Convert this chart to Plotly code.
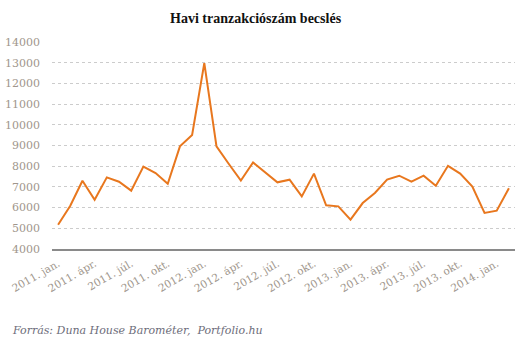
import plotly.graph_objects as go

# Monthly transaction estimates, Jan 2011 – Feb 2014
months = [
    "2011. jan.", "2011. febr.", "2011. márc.", "2011. ápr.", "2011. máj.", "2011. jún.",
    "2011. júl.", "2011. aug.", "2011. szept.", "2011. okt.", "2011. nov.", "2011. dec.",
    "2012. jan.", "2012. febr.", "2012. márc.", "2012. ápr.", "2012. máj.", "2012. jún.",
    "2012. júl.", "2012. aug.", "2012. szept.", "2012. okt.", "2012. nov.", "2012. dec.",
    "2013. jan.", "2013. febr.", "2013. márc.", "2013. ápr.", "2013. máj.", "2013. jún.",
    "2013. júl.", "2013. aug.", "2013. szept.", "2013. okt.", "2013. nov.", "2013. dec.",
    "2014. jan.", "2014. febr.",
]
transactions = [
    5170, 6090, 7300, 6380, 7460, 7250,
    6820, 7980, 7670, 7150, 8960, 9510,
    12980, 8960, 8120, 7310, 8180, 7690,
    7220, 7350, 6540, 7640, 6110, 6060,
    5420, 6220, 6710, 7350, 7540, 7250,
    7540, 7060, 8020, 7640, 7020, 5740,
    5850, 6930,
]
tick_labels = months[::3]
y_ticks = list(range(4000, 14001, 1000))

serif = "DejaVu Serif"
tick_color = "#a0968c"

fig = go.Figure(
    go.Scatter(
        x=months,
        y=transactions,
        mode="lines",
        line=dict(color="#E8771E", width=2),
        hoverinfo="x+y",
    )
)

fig.update_layout(
    width=531,
    height=342,
    margin=dict(l=52, r=16, t=42, b=93),
    paper_bgcolor="white",
    plot_bgcolor="white",
    showlegend=False,
    font=dict(family=serif, color=tick_color, size=11),
    xaxis=dict(
        type="category",
        tickmode="array",
        tickvals=tick_labels,
        ticktext=tick_labels,
        tickangle=-30,
        showgrid=False,
        showline=True,
        linecolor="#8a8a8a",
        linewidth=1.5,
        ticks="",
        automargin=False,
        ticklabelstandoff=3,
        tickfont=dict(family=serif, size=10.5, color=tick_color),
        range=[-0.5, len(months) - 0.5],
    ),
    yaxis=dict(
        range=[4000, 14000],
        tickvals=y_ticks,
        tickformat="d",
        showgrid=True,
        gridcolor="#cccccc",
        griddash="3px,3px",
        gridwidth=1,
        zeroline=False,
        showline=False,
        ticks="",
        automargin=False,
        ticklabelstandoff=11,
        tickfont=dict(family=serif, size=11, color=tick_color),
    ),
    annotations=[
        dict(
            text="<b>Havi tranzakciószám becslés</b>",
            xref="paper", yref="paper",
            x=(256 - 52) / 463, y=1,
            yshift=24,
            xanchor="center", yanchor="middle",
            showarrow=False,
            font=dict(family="Liberation Serif", size=14, color="#111111"),
        ),
        dict(
            text="<i>Forrás: Duna House Barométer,  Portfolio.hu</i>",
            xref="paper", yref="paper",
            x=-42 / 463, y=0,
            yshift=-81,
            xanchor="left", yanchor="middle",
            showarrow=False,
            font=dict(family=serif, size=11, color="#6d6d7a"),
        ),
    ],
)

fig.write_html("out.html")
